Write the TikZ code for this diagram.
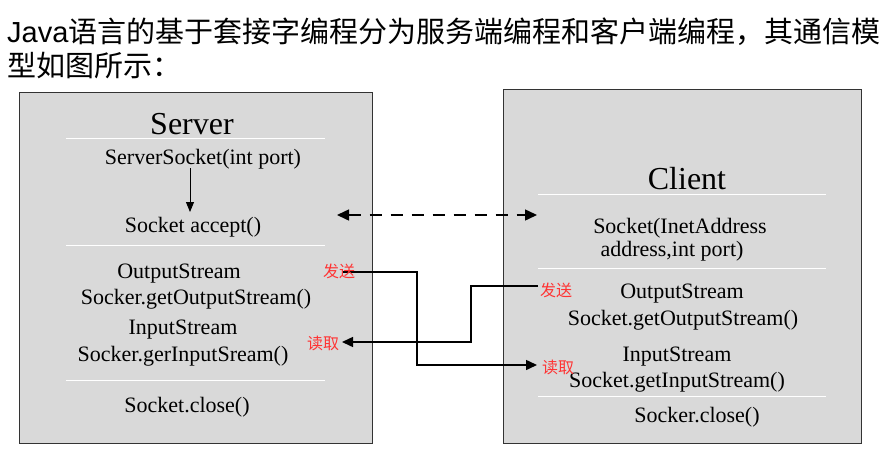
\documentclass[tikz,border=0pt]{standalone}
\usepackage{fontspec}
\setmainfont{Liberation Serif}
\newfontfamily\tnr{Liberation Serif}
\newfontfamily\cjk{Noto Sans CJK SC}
\newfontfamily\lsans{Liberation Sans}
\usetikzlibrary{arrows.meta}
\begin{document}
\begin{tikzpicture}[x=1pt,y=-1pt,
  box/.style={draw=black!80, fill=gray!30, line width=1pt, inner sep=0pt},
  sep/.style={draw=white, line width=1pt},
  txt/.style={font=\tnr\fontsize{22}{24}\selectfont, anchor=base, inner sep=0pt},
  ttl/.style={font=\tnr\fontsize{32}{34}\selectfont, anchor=base, inner sep=0pt},
  redlbl/.style={font=\cjk\fontsize{16}{18}\selectfont, text=red!80!white, inner sep=0pt},
  conn/.style={line width=1.5pt, -{Triangle[length=11pt,width=10pt]}},
  head/.style={font=\fontsize{29}{31}\selectfont, anchor=base west, inner sep=0pt}]
\useasboundingbox (0,0) rectangle (887,453);
% title
\node[head] (t1) at (7,42) {{\lsans Java}{\cjk 语言的基于套接字编程分为服务端编程和客户端编程，其通信模}};
\node[head] (t2) at (7,76) {\cjk 型如图所示：};
% boxes
\node[box, minimum width=353, minimum height=351] (server) at (195.5,267.5) {};
\node[box, minimum width=358, minimum height=354] (client) at (682,266) {};
% server content
\node[ttl] (stitle) at (192,134) {Server};
\draw[sep] (66,138) -- (325,138);
\node[txt] (ss) at (203,164) {ServerSocket(int port)};
\node[txt] (acc) at (193,232) {Socket accept()};
\draw[sep] (66,245) -- (325,245);
\node[txt] (sos) at (179,278) {OutputStream};
\node[txt] (sgos) at (196,304) {Socker.getOutputStream()};
\node[txt] (sis) at (183,334) {InputStream};
\node[txt] (sgis) at (183,361) {Socker.gerInputSream()};
\draw[sep] (66,380) -- (325,380);
\node[txt] (scl) at (187,412) {Socket.close()};
% client content
\node[ttl] (ctitle) at (687,189) {Client};
\draw[sep] (538,194) -- (826,194);
\node[txt] (cs1) at (680,233) {Socket(InetAddress};
\node[txt] (cs2) at (672,256) {address,int port)};
\draw[sep] (538,268) -- (826,268);
\node[txt] (cos) at (682,298) {OutputStream};
\node[txt] (cgos) at (683,325) {Socket.getOutputStream()};
\node[txt] (cis) at (677,361) {InputStream};
\node[txt] (cgis) at (677,387) {Socket.getInputStream()};
\draw[sep] (538,396) -- (826,396);
\node[txt] (ccl) at (697,422) {Socker.close()};
% arrows
\coordinate (ssb) at (190,168);
\coordinate (acct) at (190,212);
\draw[line width=1pt, -{Triangle[length=10pt,width=8pt]}] (ssb) -- (acct);
\coordinate (dl) at (337,215);
\coordinate (dr) at (537,215);
\draw[line width=1.5pt, dash pattern=on 12pt off 9pt, {Triangle[length=12pt,width=11pt]}-{Triangle[length=12pt,width=11pt]}] (dl) -- (dr);
\coordinate (sendS) at (343,272);
\coordinate (readC) at (537,365);
\draw[conn] (sendS) -- (417,272) -- (417,365) -- (readC);
\coordinate (sendC) at (538,286);
\coordinate (readS) at (342,342);
\draw[conn] (sendC) -- (471,286) -- (471,342) -- (readS);
% red labels
\node[redlbl, anchor=west] (l1) at (323,271) {发送};
\node[redlbl, anchor=west] (l2) at (307,343) {读取};
\node[redlbl, anchor=west] (l3) at (540,290) {发送};
\node[redlbl, anchor=west] (l4) at (542,367) {读取};
\end{tikzpicture}
\end{document}
